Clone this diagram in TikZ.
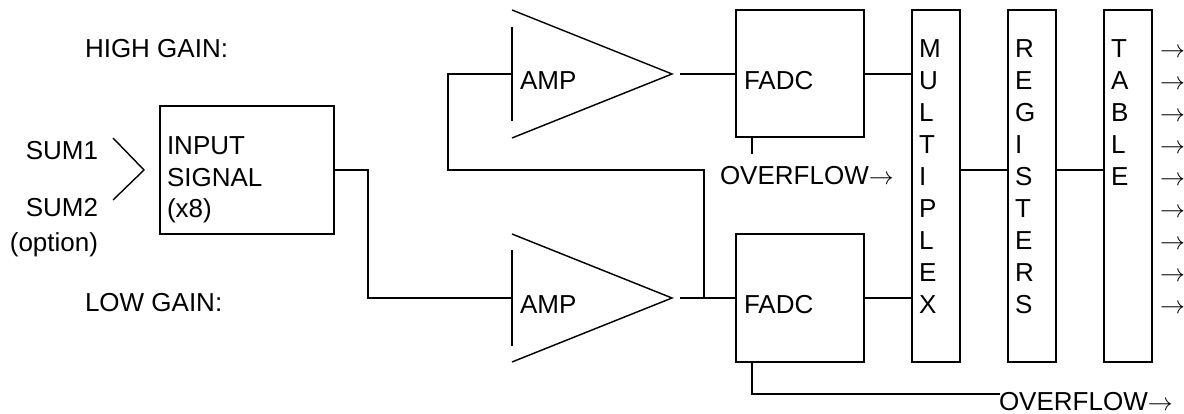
\documentclass[tikz,border=0pt]{standalone}
\usepackage{fontspec}
\setmainfont{Liberation Sans}
\begin{document}
\begin{tikzpicture}[x=1pt,y=-1pt,line width=1.4pt,
  font=\fontsize{26}{32}\selectfont,
  box/.style={draw,rectangle,inner sep=0pt,outer sep=0pt},
  txt/.style={inner sep=0pt,outer sep=0pt,anchor=base west},
  txte/.style={inner sep=0pt,outer sep=0pt,anchor=base east}]
\useasboundingbox (0,0) rectangle (1184,414);
\clip (0,0) rectangle (1184,414);
% boxes
\node[box,minimum width=174pt,minimum height=128pt] (inbox) at (247,170) {};
\node[box,minimum width=128pt,minimum height=127pt] (fadcH) at (800,73.5) {};
\node[box,minimum width=128pt,minimum height=128pt] (fadcL) at (800,298) {};
\node[box,minimum width=48pt,minimum height=352pt] (mux) at (936,186) {};
\node[box,minimum width=48pt,minimum height=352pt] (reg) at (1032,186) {};
\node[box,minimum width=48pt,minimum height=352pt] (tab) at (1128,186) {};
% amplifiers
\coordinate (ampHin) at (512,74);
\coordinate (ampHout) at (680,74);
\coordinate (ampLin) at (512,298);
\coordinate (ampLout) at (680,298);
\draw (512,27) -- (512,121);
\draw (512,10) -- (672,74) -- (512,138);
\draw (512,250) -- (512,346);
\draw (512,234) -- (672,298) -- (512,362);
% texts
\node[txt] (hg) at (85,58) {HIGH GAIN:};
\node[txt] (lg) at (85,312) {LOW GAIN:};
\node[txte] (s1) at (98,160) {SUM1};
\node[txte] (s2) at (98,217) {SUM2};
\node[txte] (opt) at (98,252) {(option)};
\node[txt] (t1) at (167,155) {INPUT};
\node[txt] (t2) at (167,187) {SIGNAL};
\node[txt] (t3) at (167,218) {(x8)};
\node[txt] (a1) at (520,90) {AMP};
\node[txt] (a2) at (520,313) {AMP};
\node[txt] (f1) at (744,90) {FADC};
\node[txt] (f2) at (744,313) {FADC};
\node[txt] (ov1) at (720,185) {OVERFLOW$\rightarrow$};
\node[txt] (ov2) at (999,410) {OVERFLOW$\rightarrow$};
\foreach \ch [count=\i from 0] in {M,U,L,T,I,P,L,E,X}
  \node[txt] (mx\i) at (919,58+31.9*\i) {\ch};
\foreach \ch [count=\i from 0] in {R,E,G,I,S,T,E,R,S}
  \node[txt] (rg\i) at (1015,58+31.9*\i) {\ch};
\foreach \ch [count=\i from 0] in {T,A,B,L,E}
  \node[txt] (tb\i) at (1111,58+31.9*\i) {\ch};
\foreach \i in {0,...,8}
  \node[txt] (ar\i) at (1160,58+31.9*\i) {$\rightarrow$};
% SUM input chevron
\draw (113,138) -- (144,170) -- (113,200);
% wires
\draw (inbox.east |- 0,170) -- (368,170) -- (368,298) -- (ampLin);
\draw (ampHin) -- (448,74) -- (448,170) -- (704,170) -- (704,298);
\draw (ampHout) -- (fadcH.west |- ampHout);
\draw (ampLout) -- (fadcL.west |- ampLout);
\draw (fadcH.east |- 0,74) -- (mux.west |- 0,74);
\draw (fadcL.east) -- (mux.west |- fadcL.east);
\draw (752,137) -- (752,154);
\draw (752,362) -- (752,394) -- (1000,394);
\draw (mux.east |- 0,170) -- (reg.west |- 0,170);
\draw (reg.east |- 0,170) -- (tab.west |- 0,170);
\end{tikzpicture}
\end{document}
